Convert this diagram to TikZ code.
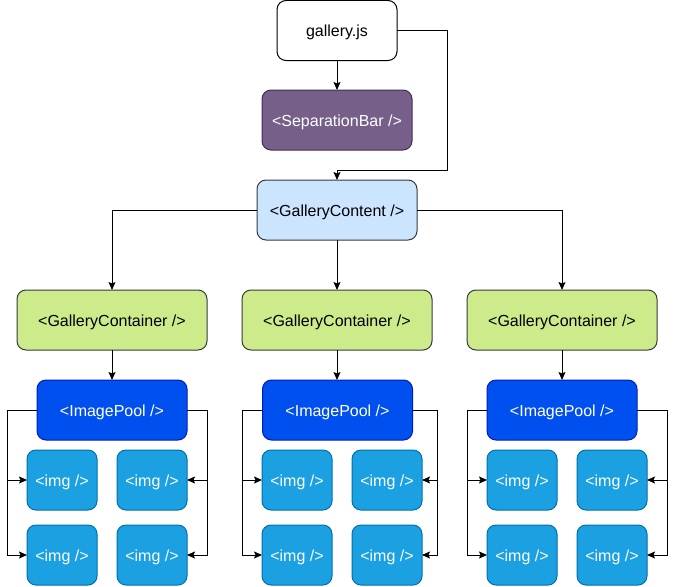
\documentclass[tikz,border=0pt]{standalone}
\usepackage{fontspec}
\setmainfont{Liberation Sans}
\usetikzlibrary{arrows.meta}
\definecolor{sepfill}{HTML}{76608A}
\definecolor{sepdraw}{HTML}{432D57}
\definecolor{gcfill}{HTML}{CCE5FF}
\definecolor{greyd}{HTML}{36393D}
\definecolor{contfill}{HTML}{CDEB8B}
\definecolor{poolfill}{HTML}{0050EF}
\definecolor{pooldraw}{HTML}{001DBC}
\definecolor{imgfill}{HTML}{1BA1E2}
\definecolor{imgdraw}{HTML}{006EAF}
\begin{document}
\begin{tikzpicture}[x=1pt,y=-1pt,
  box/.style={draw, line width=1pt, rounded corners=9pt, inner sep=0pt, outer sep=0pt,
    minimum height=60pt, font=\fontsize{16}{19}\selectfont, text height=12pt, text depth=0pt},
  filebox/.style={box, fill=white, draw=black, minimum width=120pt},
  sepbox/.style={box, fill=sepfill, draw=sepdraw, text=white, minimum width=150pt},
  contentbox/.style={box, fill=gcfill, draw=greyd, minimum width=160pt},
  contbox/.style={box, fill=contfill, draw=greyd, minimum width=190pt},
  poolbox/.style={box, fill=poolfill, draw=pooldraw, text=white, minimum width=150pt},
  imgbox/.style={box, fill=imgfill, draw=imgdraw, text=white, minimum width=70pt},
  arr/.style={draw=black, line width=1pt, -{Stealth[length=8pt,width=7pt,inset=1.5pt]}}
]
\useasboundingbox (0,0) rectangle (676,586);

\node[filebox] (g) at (337,30.5) {gallery.js};
\node[sepbox] (sep) at (337,120) {<SeparationBar />};
\node[contentbox] (gc) at (337,210) {<GalleryContent />};

\node[contbox] (cl) at (112,320) {<GalleryContainer />};
\node[contbox] (cm) at (337,320) {<GalleryContainer />};
\node[contbox] (cr) at (562,320) {<GalleryContainer />};

\node[poolbox] (pl) at (112,410) {<ImagePool />};
\node[poolbox] (pm) at (337.5,410) {<ImagePool />};
\node[poolbox] (pr) at (562,410) {<ImagePool />};

% left group images
\node[imgbox] (l11) at (62,480) {<img />};
\node[imgbox] (l12) at (152,480) {<img />};
\node[imgbox] (l21) at (62,555) {<img />};
\node[imgbox] (l22) at (152,555) {<img />};
% middle group images
\node[imgbox] (m11) at (297,480) {<img />};
\node[imgbox] (m12) at (387,480) {<img />};
\node[imgbox] (m21) at (297,555) {<img />};
\node[imgbox] (m22) at (387,555) {<img />};
% right group images
\node[imgbox] (r11) at (522,480) {<img />};
\node[imgbox] (r12) at (612,480) {<img />};
\node[imgbox] (r21) at (522,555) {<img />};
\node[imgbox] (r22) at (612,555) {<img />};

% bend coordinates
\coordinate (k1) at (447,170);
\coordinate (la) at (7,410);
\coordinate (lb) at (207,410);
\coordinate (ma) at (242,410);
\coordinate (mb) at (437,410);
\coordinate (ra) at (467,410);
\coordinate (rb) at (667,410);

\draw[arr] (g) -- (sep);
\draw[arr] (g.east) -| (k1) -| (gc.north);

\draw[arr] (gc.west) -| (cl.north);
\draw[arr] (gc.south) -- (cm.north);
\draw[arr] (gc.east) -| (cr.north);

\draw[arr] (cl.south) -- (pl.north);
\draw[arr] (cm.south) -- (cm.south |- pm.north);
\draw[arr] (cr.south) -- (pr.north);

\draw[arr] (pl.west) -- (la) |- (l11.west);
\draw[arr] (la) |- (l21.west);
\draw[arr] (pl.east) -- (lb) |- (l12.east);
\draw[arr] (lb) |- (l22.east);

\draw[arr] (pm.west) -- (ma) |- (m11.west);
\draw[arr] (ma) |- (m21.west);
\draw[arr] (pm.east) -- (mb) |- (m12.east);
\draw[arr] (mb) |- (m22.east);

\draw[arr] (pr.west) -- (ra) |- (r11.west);
\draw[arr] (ra) |- (r21.west);
\draw[arr] (pr.east) -- (rb) |- (r12.east);
\draw[arr] (rb) |- (r22.east);
\end{tikzpicture}
\end{document}
